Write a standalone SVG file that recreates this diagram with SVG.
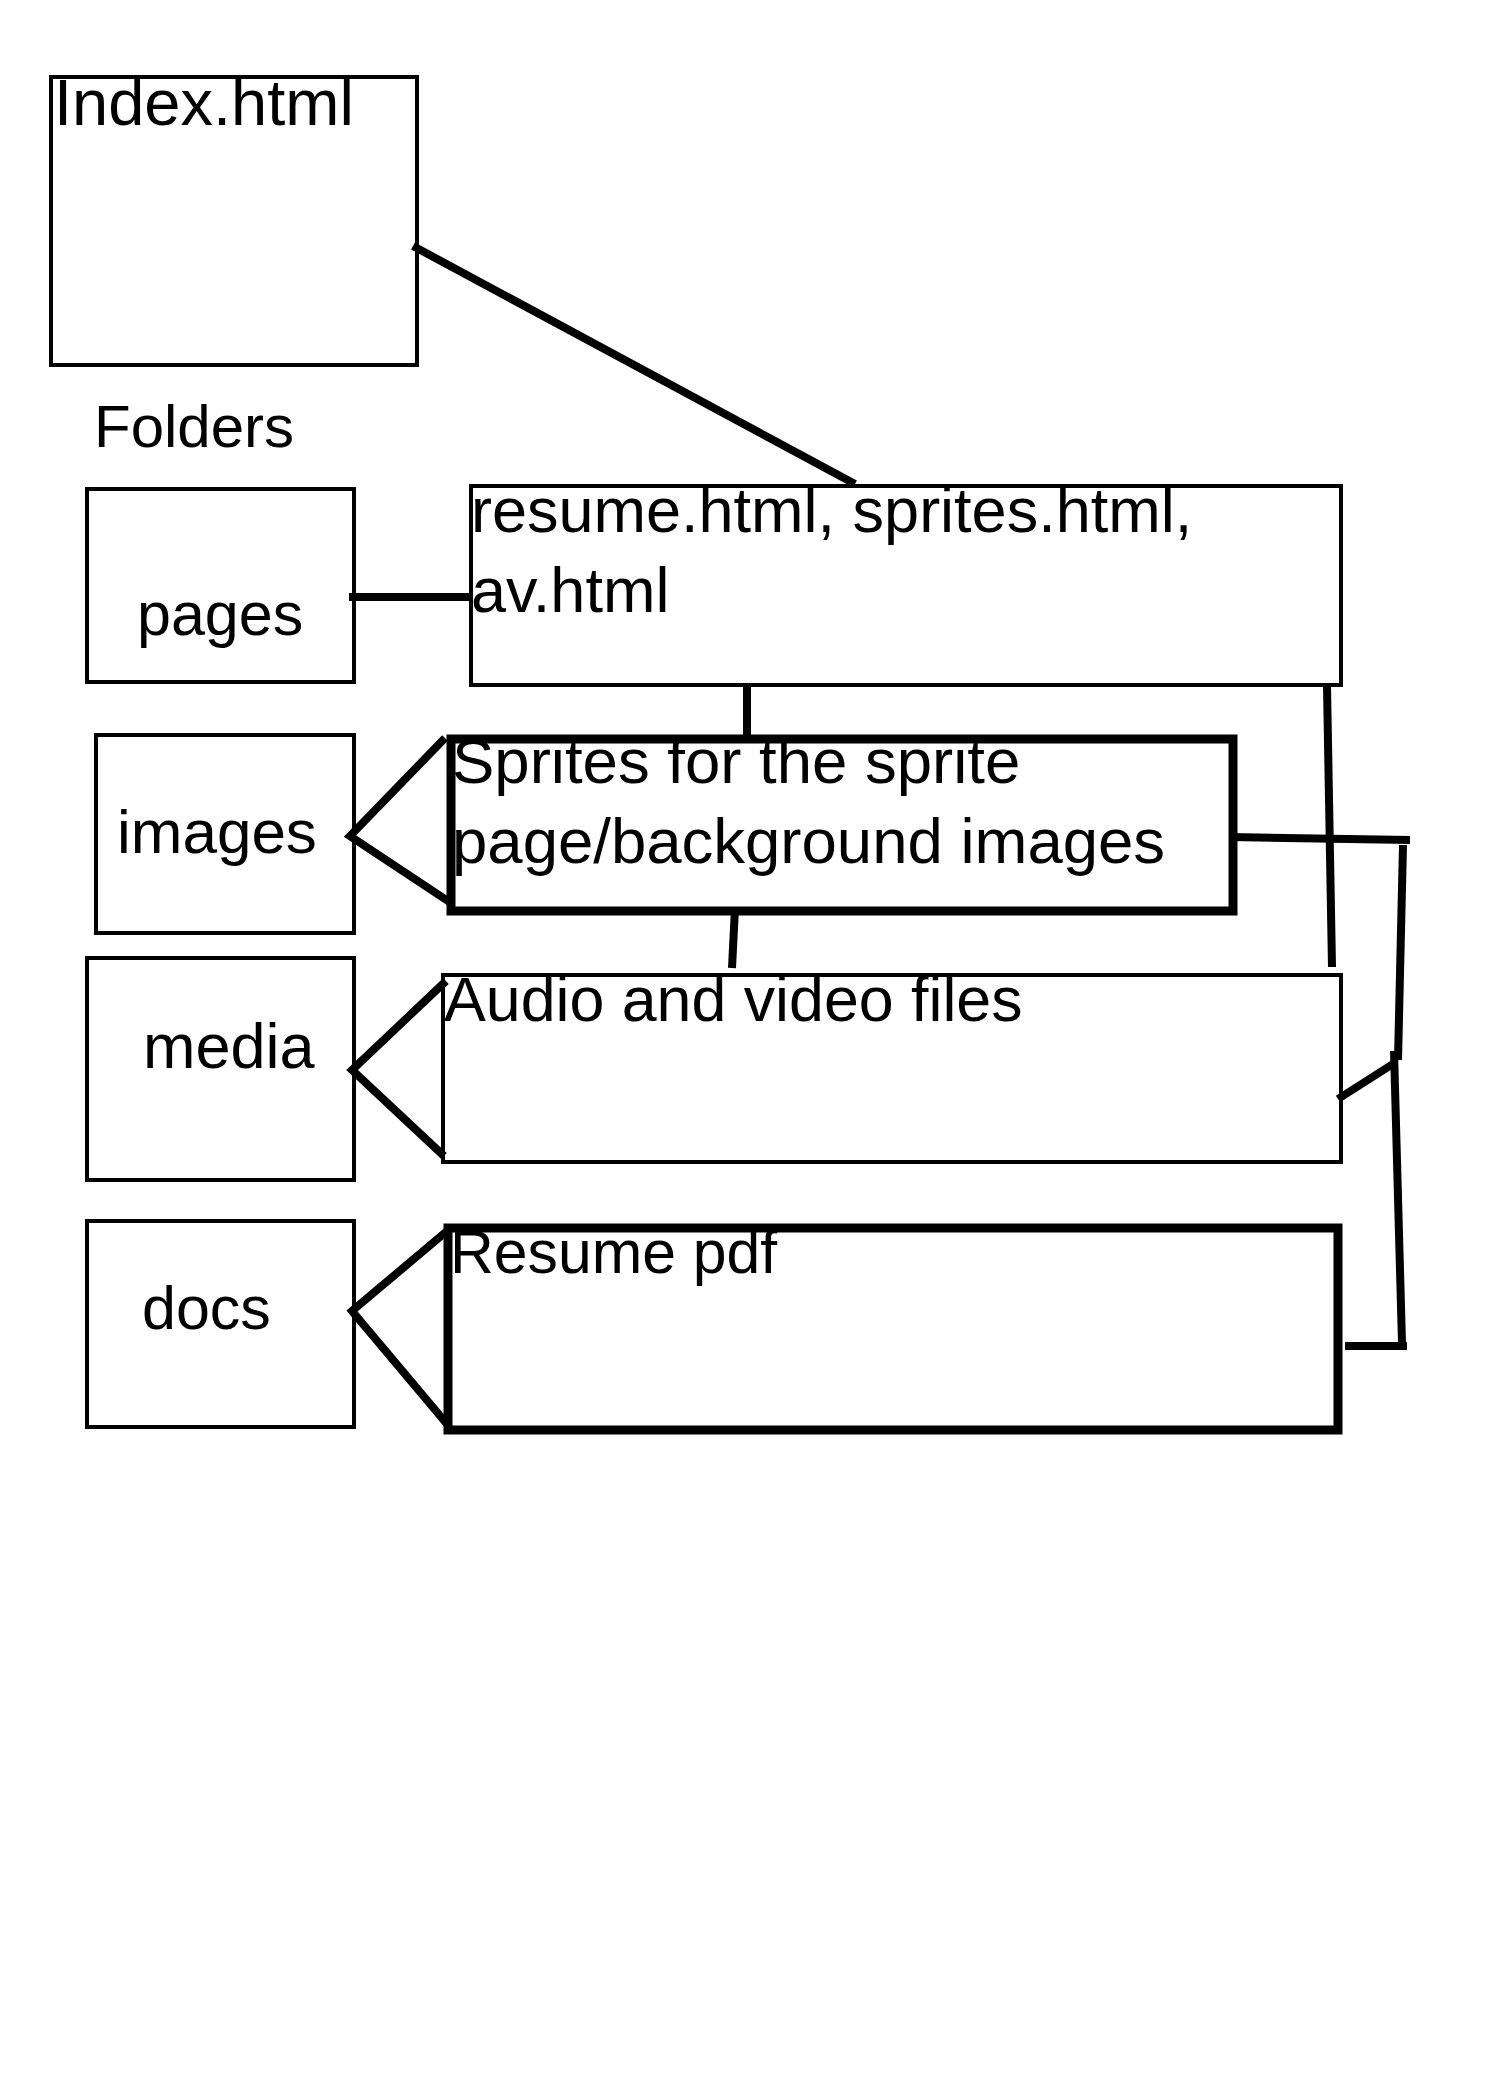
<svg xmlns="http://www.w3.org/2000/svg" width="1500" height="2100" viewBox="0 0 1500 2100">
<style>
.thin{fill:none;stroke:#000;stroke-width:4}
.thick{fill:none;stroke:#000;stroke-width:9}
.c{fill:none;stroke:#000;stroke-width:8;stroke-linecap:butt;stroke-linejoin:miter}
.t{font-family:"Liberation Sans",Arial,sans-serif;font-size:62px;fill:#000}
.f{font-family:"Liberation Sans",Arial,sans-serif;font-size:61px;fill:#000}
</style>
<rect width="1500" height="2100" fill="#fff"/>
<g id="index">
<rect class="thin" x="51" y="77" width="366" height="288"/>
<text class="t" x="54" y="125" style="font-size:65px">Index.html</text>
</g>
<g id="folders-label">
<text class="f" x="94" y="447" style="font-size:60px">Folders</text>
</g>
<g id="pages">
<rect class="thin" x="87" y="489" width="267" height="193"/>
<text class="f" x="137" y="635">pages</text>
</g>
<g id="images">
<rect class="thin" x="96" y="735" width="258" height="198"/>
<text class="f" x="117" y="853" style="font-size:62px">images</text>
</g>
<g id="media">
<rect class="thin" x="87" y="958" width="267" height="222"/>
<text class="f" x="143" y="1068" style="font-size:63px">media</text>
</g>
<g id="docs">
<rect class="thin" x="87" y="1221" width="267" height="206"/>
<text class="f" x="142" y="1329">docs</text>
</g>
<g id="resume-html">
<rect class="thin" x="471" y="486" width="870" height="199"/>
<text class="t" x="471" y="532" style="font-size:63px">resume.html, sprites.html,</text>
<text class="t" x="471" y="612" style="font-size:63px">av.html</text>
</g>
<g id="sprites">
<rect class="thick" x="451" y="739" width="782" height="172"/>
<text class="t" x="452" y="783" style="font-size:63.5px">Sprites for the sprite</text>
<text class="t" x="452" y="863" style="font-size:63.5px">page/background images</text>
</g>
<g id="av">
<rect class="thin" x="443" y="975" width="898" height="187"/>
<text class="t" x="444" y="1021" style="font-size:62.7px">Audio and video files</text>
</g>
<g id="resume-pdf">
<rect class="thick" x="448" y="1228" width="890" height="202"/>
<text class="t" x="450" y="1273" style="font-size:60.7px">Resume pdf</text>
</g>
<g id="connectors">
<line class="c" x1="413" y1="246" x2="855" y2="484"/>
<line class="c" x1="349" y1="597" x2="471" y2="597"/>
<line class="c" x1="747" y1="685" x2="747" y2="735"/>
<line class="c" x1="1327" y1="686" x2="1332" y2="967"/>
<polyline class="c" points="445,738 350,836 451,903"/>
<line class="c" x1="735" y1="908" x2="732" y2="968"/>
<polyline class="c" points="446,981 352,1070 444,1156"/>
<polyline class="c" points="447,1231 352,1311 447,1424"/>
<line class="c" x1="1230" y1="837" x2="1410" y2="840"/>
<line class="c" x1="1403" y1="845" x2="1398" y2="1060"/>
<line class="c" x1="1394" y1="1051" x2="1402" y2="1343"/>
<line class="c" x1="1338" y1="1099" x2="1396" y2="1062"/>
<line class="c" x1="1345" y1="1346" x2="1407" y2="1346"/>
</g>
</svg>
